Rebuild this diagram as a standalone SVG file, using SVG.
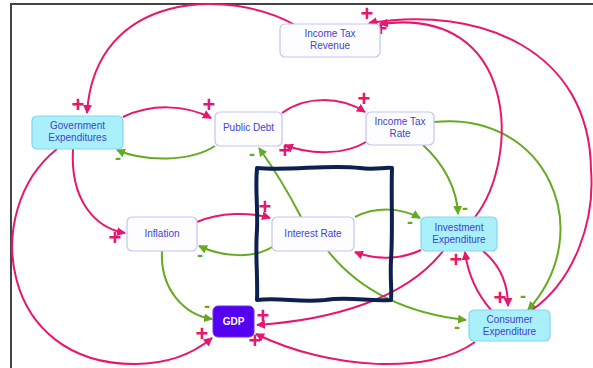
<svg xmlns="http://www.w3.org/2000/svg" width="593" height="368" viewBox="0 0 593 368">
<defs>
<marker id="ap" markerUnits="userSpaceOnUse" markerWidth="9" markerHeight="9" refX="8" refY="4.5" orient="auto"><path d="M0,0 L9,4.5 L0,9 z" fill="#e6186e"/></marker>
<marker id="ag" markerUnits="userSpaceOnUse" markerWidth="9" markerHeight="9" refX="8" refY="4.5" orient="auto"><path d="M0,0 L9,4.5 L0,9 z" fill="#66aa22"/></marker>
</defs>
<style>
.p{fill:none;stroke:#e6186e;stroke-width:2;marker-end:url(#ap)}
.g{fill:none;stroke:#66aa22;stroke-width:2;marker-end:url(#ag)}
.w{fill:#fdfdff;stroke:#c4c4f0;stroke-width:1.2}
.c{fill:#aaf0fb;stroke:#80d6f0;stroke-width:1.2}
.t{font-family:"Liberation Sans",Arial,sans-serif;font-size:10px;fill:#4242d8;text-anchor:middle}
.sp{font-family:"Liberation Sans",Arial,sans-serif;font-size:22px;font-weight:bold;fill:#e6186e;text-anchor:middle}
.sm{font-family:"Liberation Sans",Arial,sans-serif;font-size:18px;font-weight:bold;fill:#66aa22;text-anchor:middle}
</style>
<rect width="593" height="368" fill="#ffffff"/>
<path d="M11,368 L11,4 L593,4" fill="none" stroke="#444" stroke-width="2"/>
<g id="connectors">
<path class="p" d="M295,25 C230,-12 95,-10 87,113"/>
<path class="p" d="M123,117 C150,104 185,104 211,118"/>
<path class="g" d="M215,146 C190,162 145,162 117,150"/>
<path class="p" d="M282,113 C305,96 340,96 365,112"/>
<path class="p" d="M366,142 C345,155 310,155 285,145"/>
<path class="g" d="M301,217 Q282,180 259,148"/>
<path class="g" d="M328,251 Q375,310 466,320"/>
<path class="p" d="M73,149 C70,200 95,228 125,233"/>
<path class="p" d="M57,149 C-20,210 0,365 135,364 C170,364 195,352 212,338"/>
<path class="p" d="M197,222 C220,212 250,212 270,218"/>
<path class="g" d="M272,247 C255,258 225,258 199,246"/>
<path class="g" d="M162,251 C160,290 185,315 212,319"/>
<path class="g" d="M355,217 C375,207 400,207 420,218"/>
<path class="p" d="M421,250 C400,260 375,260 355,252"/>
<path class="g" d="M423,145 C445,165 457,190 458,214"/>
<path class="g" d="M434,122 C545,110 600,230 528,310"/>
<path class="p" d="M475,217 C520,160 520,5 380,24"/>
<path class="p" d="M532,310 C575,280 595,220 591,170 C590,50 480,5 369,23"/>
<path class="p" d="M443,251 C405,300 330,320 257,325"/>
<path class="p" d="M475,342 C430,375 330,370 256,334"/>
<path class="p" d="M483,251 C500,265 508,285 508,306"/>
<path class="p" d="M491,310 C478,295 468,275 465,252"/>
</g>
<g id="signs">
<text class="sp" x="78" y="112">+</text>
<text class="sp" x="209" y="112">+</text>
<text class="sm" x="118" y="164">-</text>
<text class="sp" x="364" y="106">+</text>
<text class="sp" x="285" y="158">+</text>
<text class="sm" x="252" y="160">-</text>
<text class="sp" x="115" y="245">+</text>
<text class="sp" x="202" y="341">+</text>
<text class="sp" x="265" y="214">+</text>
<text class="sm" x="200" y="261">-</text>
<text class="sm" x="207" y="312">-</text>
<text class="sm" x="410" y="228">-</text>
<text class="sm" x="465" y="214">-</text>
<text class="sm" x="523" y="302">-</text>
<text class="sm" x="457" y="333">-</text>
<text class="sp" x="263" y="323">+</text>
<text class="sp" x="255" y="348">+</text>
<text class="sp" x="500" y="305">+</text>
<text class="sp" x="456" y="267">+</text>
<text class="sp" x="367" y="21">+</text>
<text class="sp" x="381" y="36">+</text>
</g>
<g id="income-tax-revenue"><rect class="w" x="280" y="24" width="100" height="33" rx="5"/><text class="t" x="330" y="37">Income Tax</text><text class="t" x="330" y="49">Revenue</text></g>
<g id="government-expenditures"><rect class="c" x="32" y="116" width="91" height="33" rx="5"/><text class="t" x="77.5" y="129">Government</text><text class="t" x="77.5" y="141">Expenditures</text></g>
<g id="public-debt"><rect class="w" x="215" y="112" width="67" height="34" rx="5"/><text class="t" x="248.5" y="131">Public Debt</text></g>
<g id="income-tax-rate"><rect class="w" x="366" y="112" width="68" height="33" rx="5"/><text class="t" x="400" y="125">Income Tax</text><text class="t" x="400" y="137">Rate</text></g>
<g id="inflation"><rect class="w" x="127" y="217" width="70" height="34" rx="5"/><text class="t" x="162" y="237">Inflation</text></g>
<g id="interest-rate"><rect class="w" x="272" y="217" width="82" height="34" rx="5"/><text class="t" x="313" y="237">Interest Rate</text></g>
<g id="investment-expenditure"><rect class="c" x="421" y="217" width="76" height="34" rx="5"/><text class="t" x="459" y="231">Investment</text><text class="t" x="459" y="243">Expenditure</text></g>
<g id="gdp"><rect x="213" y="306" width="41" height="31" rx="5" fill="#5500ee" stroke="#6a30f0"/><text x="233.5" y="325" font-family="Liberation Sans,Arial,sans-serif" font-size="10" font-weight="bold" fill="#ffffff" text-anchor="middle">GDP</text></g>
<g id="consumer-expenditure"><rect class="c" x="469" y="310" width="81" height="31" rx="5"/><text class="t" x="509.5" y="323">Consumer</text><text class="t" x="509.5" y="335">Expenditure</text></g>
<path d="M257,168 C290,171 330,164 360,168 C375,170 385,167 392,168 C391,200 393,230 391,260 C390,280 392,290 391,300 C370,302 350,296 325,300 C300,303 280,297 257,300 C258,275 255,255 257,230 C258,205 255,190 257,168 Z" fill="none" stroke="#0c2150" stroke-width="4" stroke-linejoin="round"/>
</svg>
